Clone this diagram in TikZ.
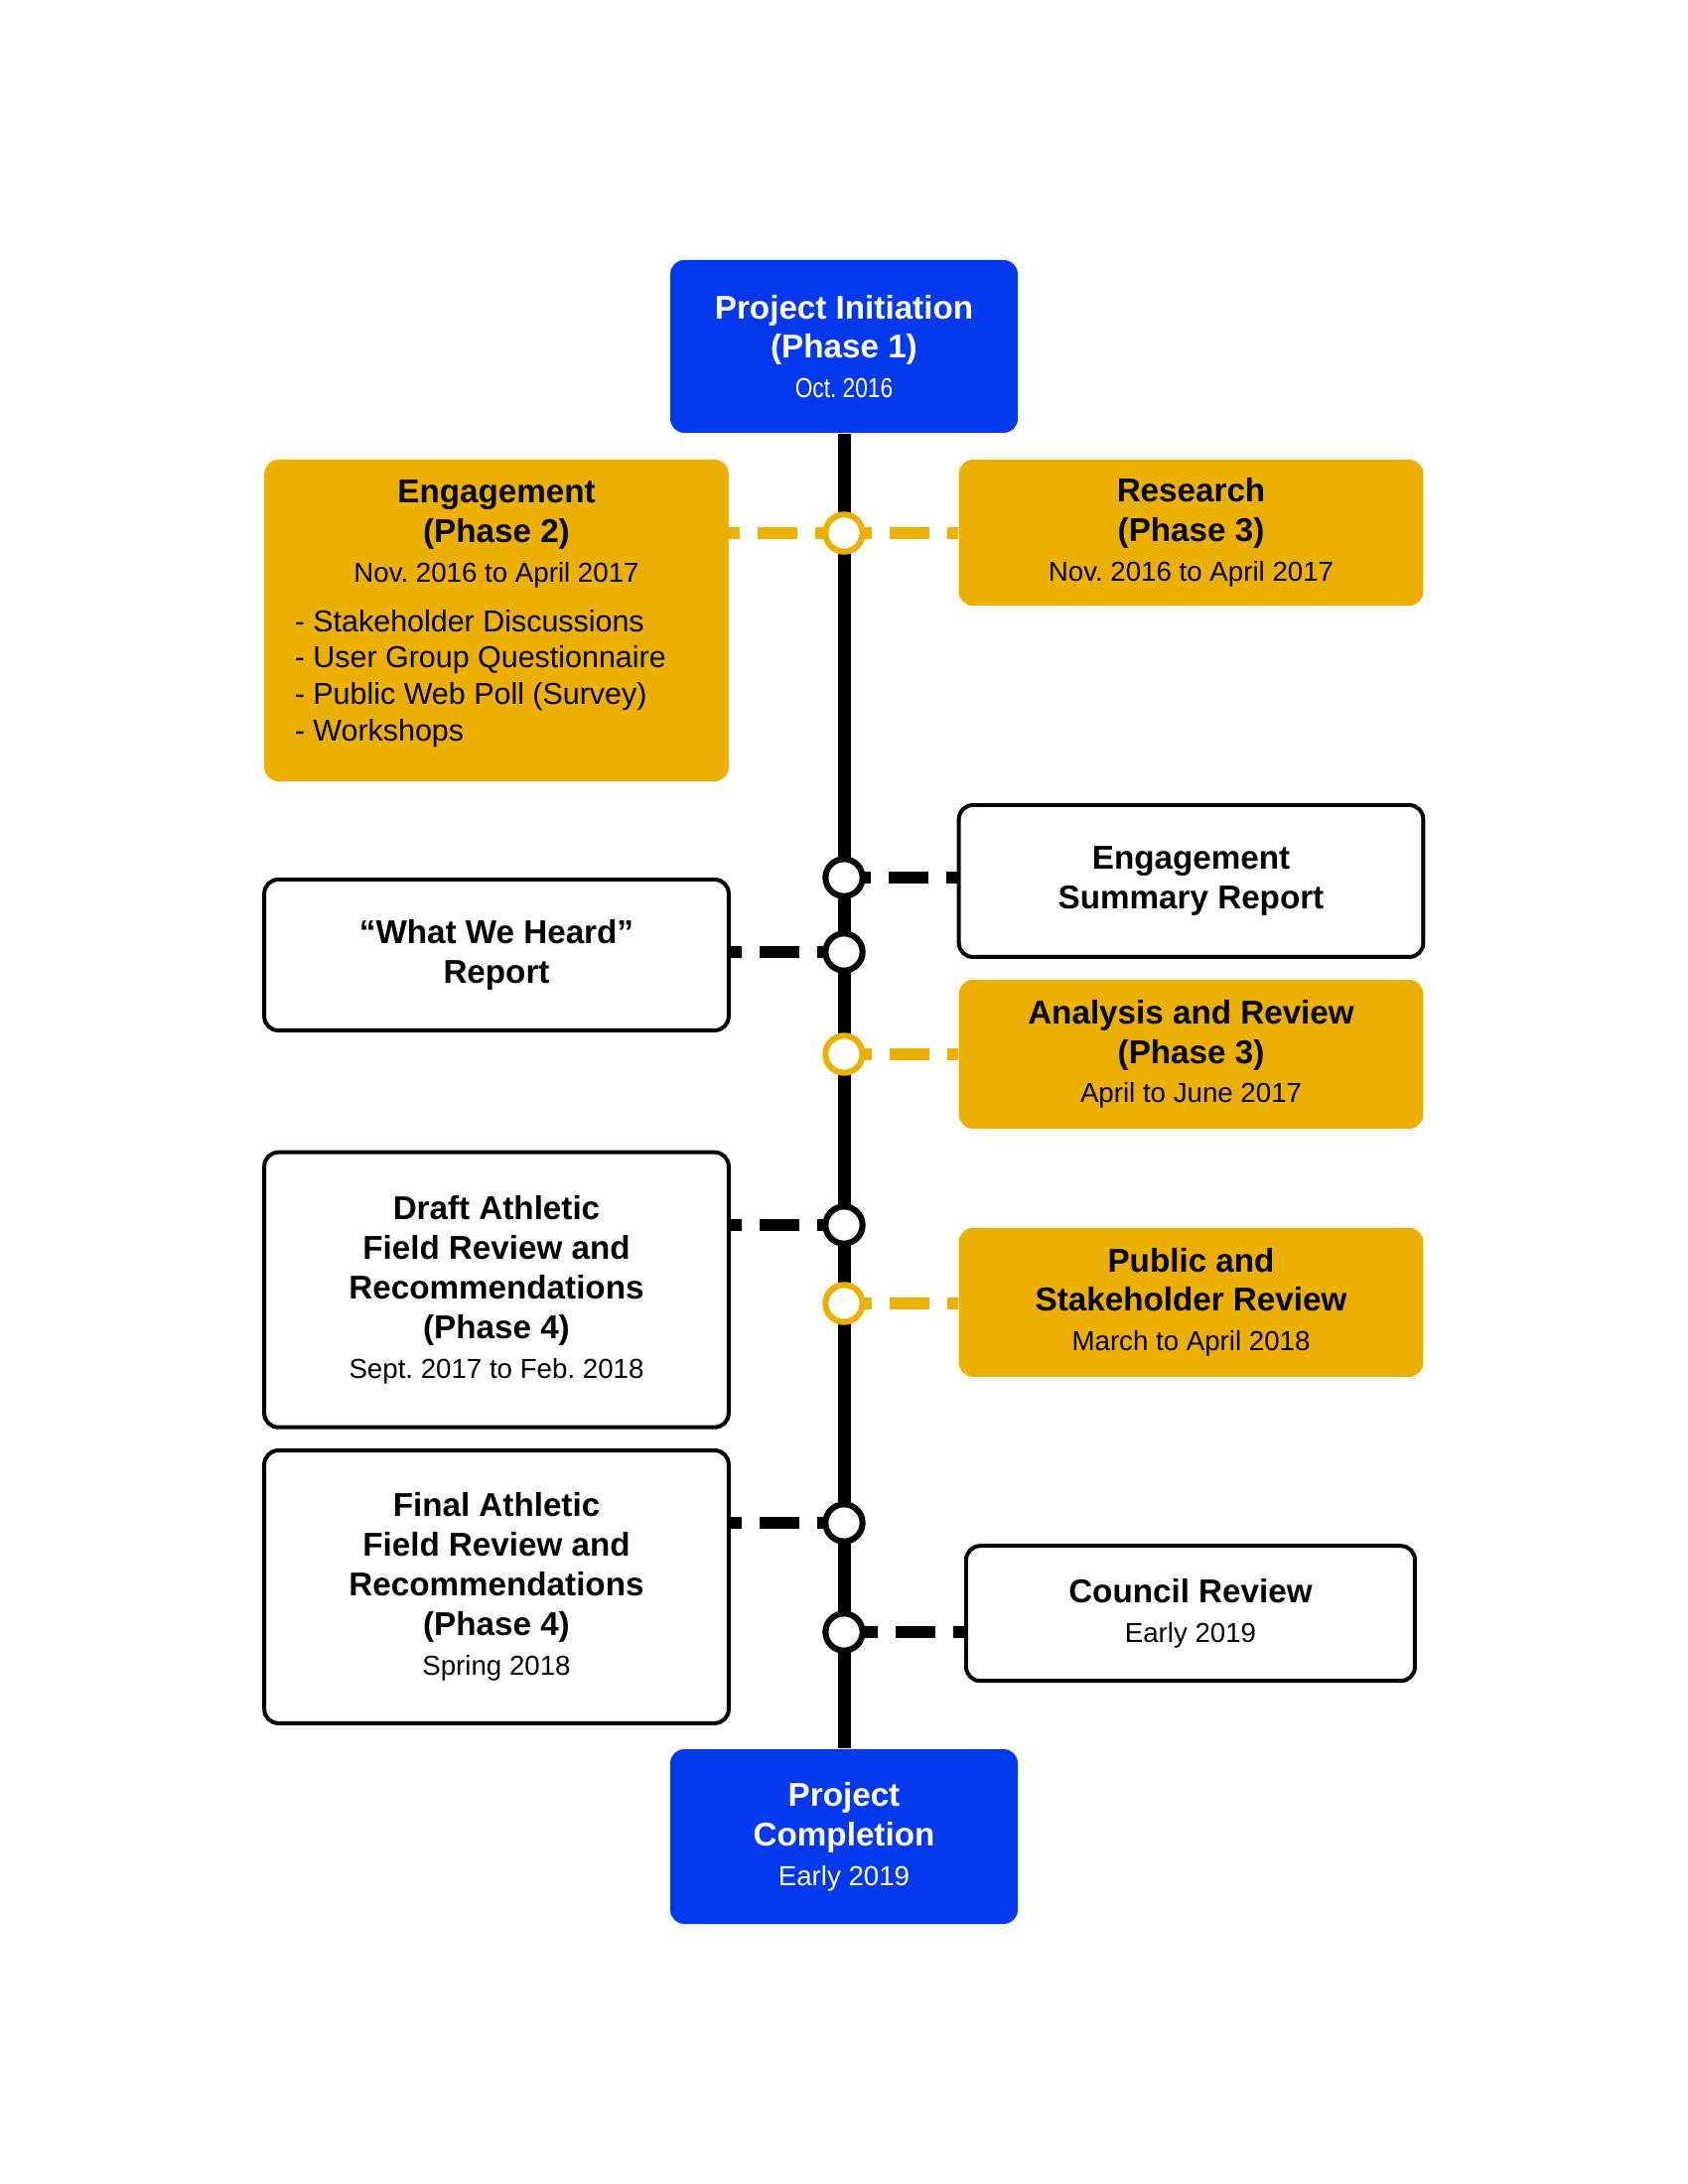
\documentclass[tikz,border=0pt]{standalone}
\usepackage{fontspec}
\setmainfont{Liberation Sans}
\newfontfamily\narrowfont[FakeStretch=0.82]{Liberation Sans}
\usepackage{tikz}
\usetikzlibrary{positioning,calc,backgrounds}
\frenchspacing

\definecolor{phaseblue}{RGB}{3,57,236}
\definecolor{phasegold}{RGB}{236,176,0}

\newcommand{\datefont}{\mdseries\fontsize{10}{14.4}\selectfont}
\newcommand{\listfont}{\mdseries\fontsize{11}{13.2}\selectfont}
\newcommand{\listitem}[1]{\makebox[5.16cm][l]{- #1}}

\begin{document}
\begin{tikzpicture}[
    stage/.style={rectangle, rounded corners=0.18cm, align=center, inner sep=0pt, minimum width=5.94cm, font=\fontsize{12}{14.4}\selectfont\bfseries},
    bluestage/.style={stage, fill=phaseblue, text=white, minimum width=4.445cm, minimum height=2.21cm},
    goldstage/.style={stage, fill=phasegold},
    reportstage/.style={stage, draw, line width=1.44pt, fill=white},
    station/.style={circle, draw, fill=white, line width=2.2pt, minimum size=0.474cm, inner sep=0pt},
    spine/.style={line width=4.7pt},
    link/.style={line width=4.3pt, dash pattern=on 14.4pt off 6.5pt, dash phase=10.4pt}
]
    \useasboundingbox (0,0) rectangle (21.59,-27.94);

    % Start and end
    \node[bluestage] (init) at (10.795,-4.432) {Project Initiation\\(Phase 1)\\{\datefont\narrowfont Oct. 2016}};
    \node[bluestage, minimum height=2.235cm] (done) at (10.795,-23.495) {Project\\Completion\\{\datefont Early 2019}};

    % Left column
    \node[goldstage, align=flush center, text width=5.16cm, inner xsep=0.39cm, minimum height=4.115cm] (eng) at (6.35,-7.9375) {Engagement\\(Phase 2)\\{\datefont Nov. 2016 to April 2017}\\[5pt]
        \listfont\listitem{Stakeholder Discussions}\\\listitem{User Group Questionnaire}\\\listitem{Public Web Poll (Survey)}\\\listitem{Workshops}\\[-7pt]\mbox{}};
    \node[reportstage, minimum height=1.93cm] (heard) at (6.35,-12.217) {“What We Heard”\\Report};
    \node[reportstage, minimum height=3.518cm] (draft) at (6.35,-16.50) {Draft Athletic\\Field Review and\\Recommendations\\(Phase 4)\\{\datefont Sept. 2017 to Feb. 2018}};
    \node[reportstage, minimum height=3.49cm] (final) at (6.35,-20.30) {Final Athletic\\Field Review and\\Recommendations\\(Phase 4)\\{\datefont Spring 2018}};

    % Right column
    \node[goldstage, minimum height=1.867cm] (res) at (15.234,-6.814) {Research\\(Phase 3)\\{\datefont Nov. 2016 to April 2017}};
    \node[reportstage, minimum height=1.943cm] (summary) at (15.234,-11.271) {Engagement\\Summary Report};
    \node[goldstage, minimum height=1.905cm] (analysis) at (15.234,-13.487) {Analysis and Review\\(Phase 3)\\{\datefont April to June 2017}};
    \node[goldstage, minimum height=1.905cm] (public) at (15.234,-16.66) {Public and\\Stakeholder Review\\{\datefont March to April 2018}};
    \node[reportstage, minimum width=5.74cm, minimum height=1.727cm] (council) at (15.227,-20.64) {Council Review\\{\datefont Early 2019}};

    % Stations on the line
    \node[station, draw=phasegold] (s1) at (10.795,-6.820) {};
    \node[station] (s2) at (10.795,-11.227) {};
    \node[station] (s3) at (10.795,-12.179) {};
    \node[station, draw=phasegold] (s4) at (10.795,-13.487) {};
    \node[station] (s5) at (10.795,-15.672) {};
    \node[station, draw=phasegold] (s6) at (10.795,-16.675) {};
    \node[station] (s7) at (10.795,-19.482) {};
    \node[station] (s8) at (10.795,-20.879) {};

    \begin{scope}[on background layer]
        \draw[spine] (init.south) -- (done.north);
        \draw[link, phasegold] (eng.east |- s1) -- (s1.center);
        \draw[link, phasegold] (res.west |- s1) -- (s1.center);
        \draw[link] (summary.west |- s2) -- (s2.center);
        \draw[link] (heard.east |- s3) -- (s3.center);
        \draw[link, phasegold] (analysis.west |- s4) -- (s4.center);
        \draw[link] (draft.east |- s5) -- (s5.center);
        \draw[link, phasegold] (public.west |- s6) -- (s6.center);
        \draw[link] (final.east |- s7) -- (s7.center);
        \draw[link] (council.west |- s8) -- (s8.center);
    \end{scope}
\end{tikzpicture}
\end{document}
